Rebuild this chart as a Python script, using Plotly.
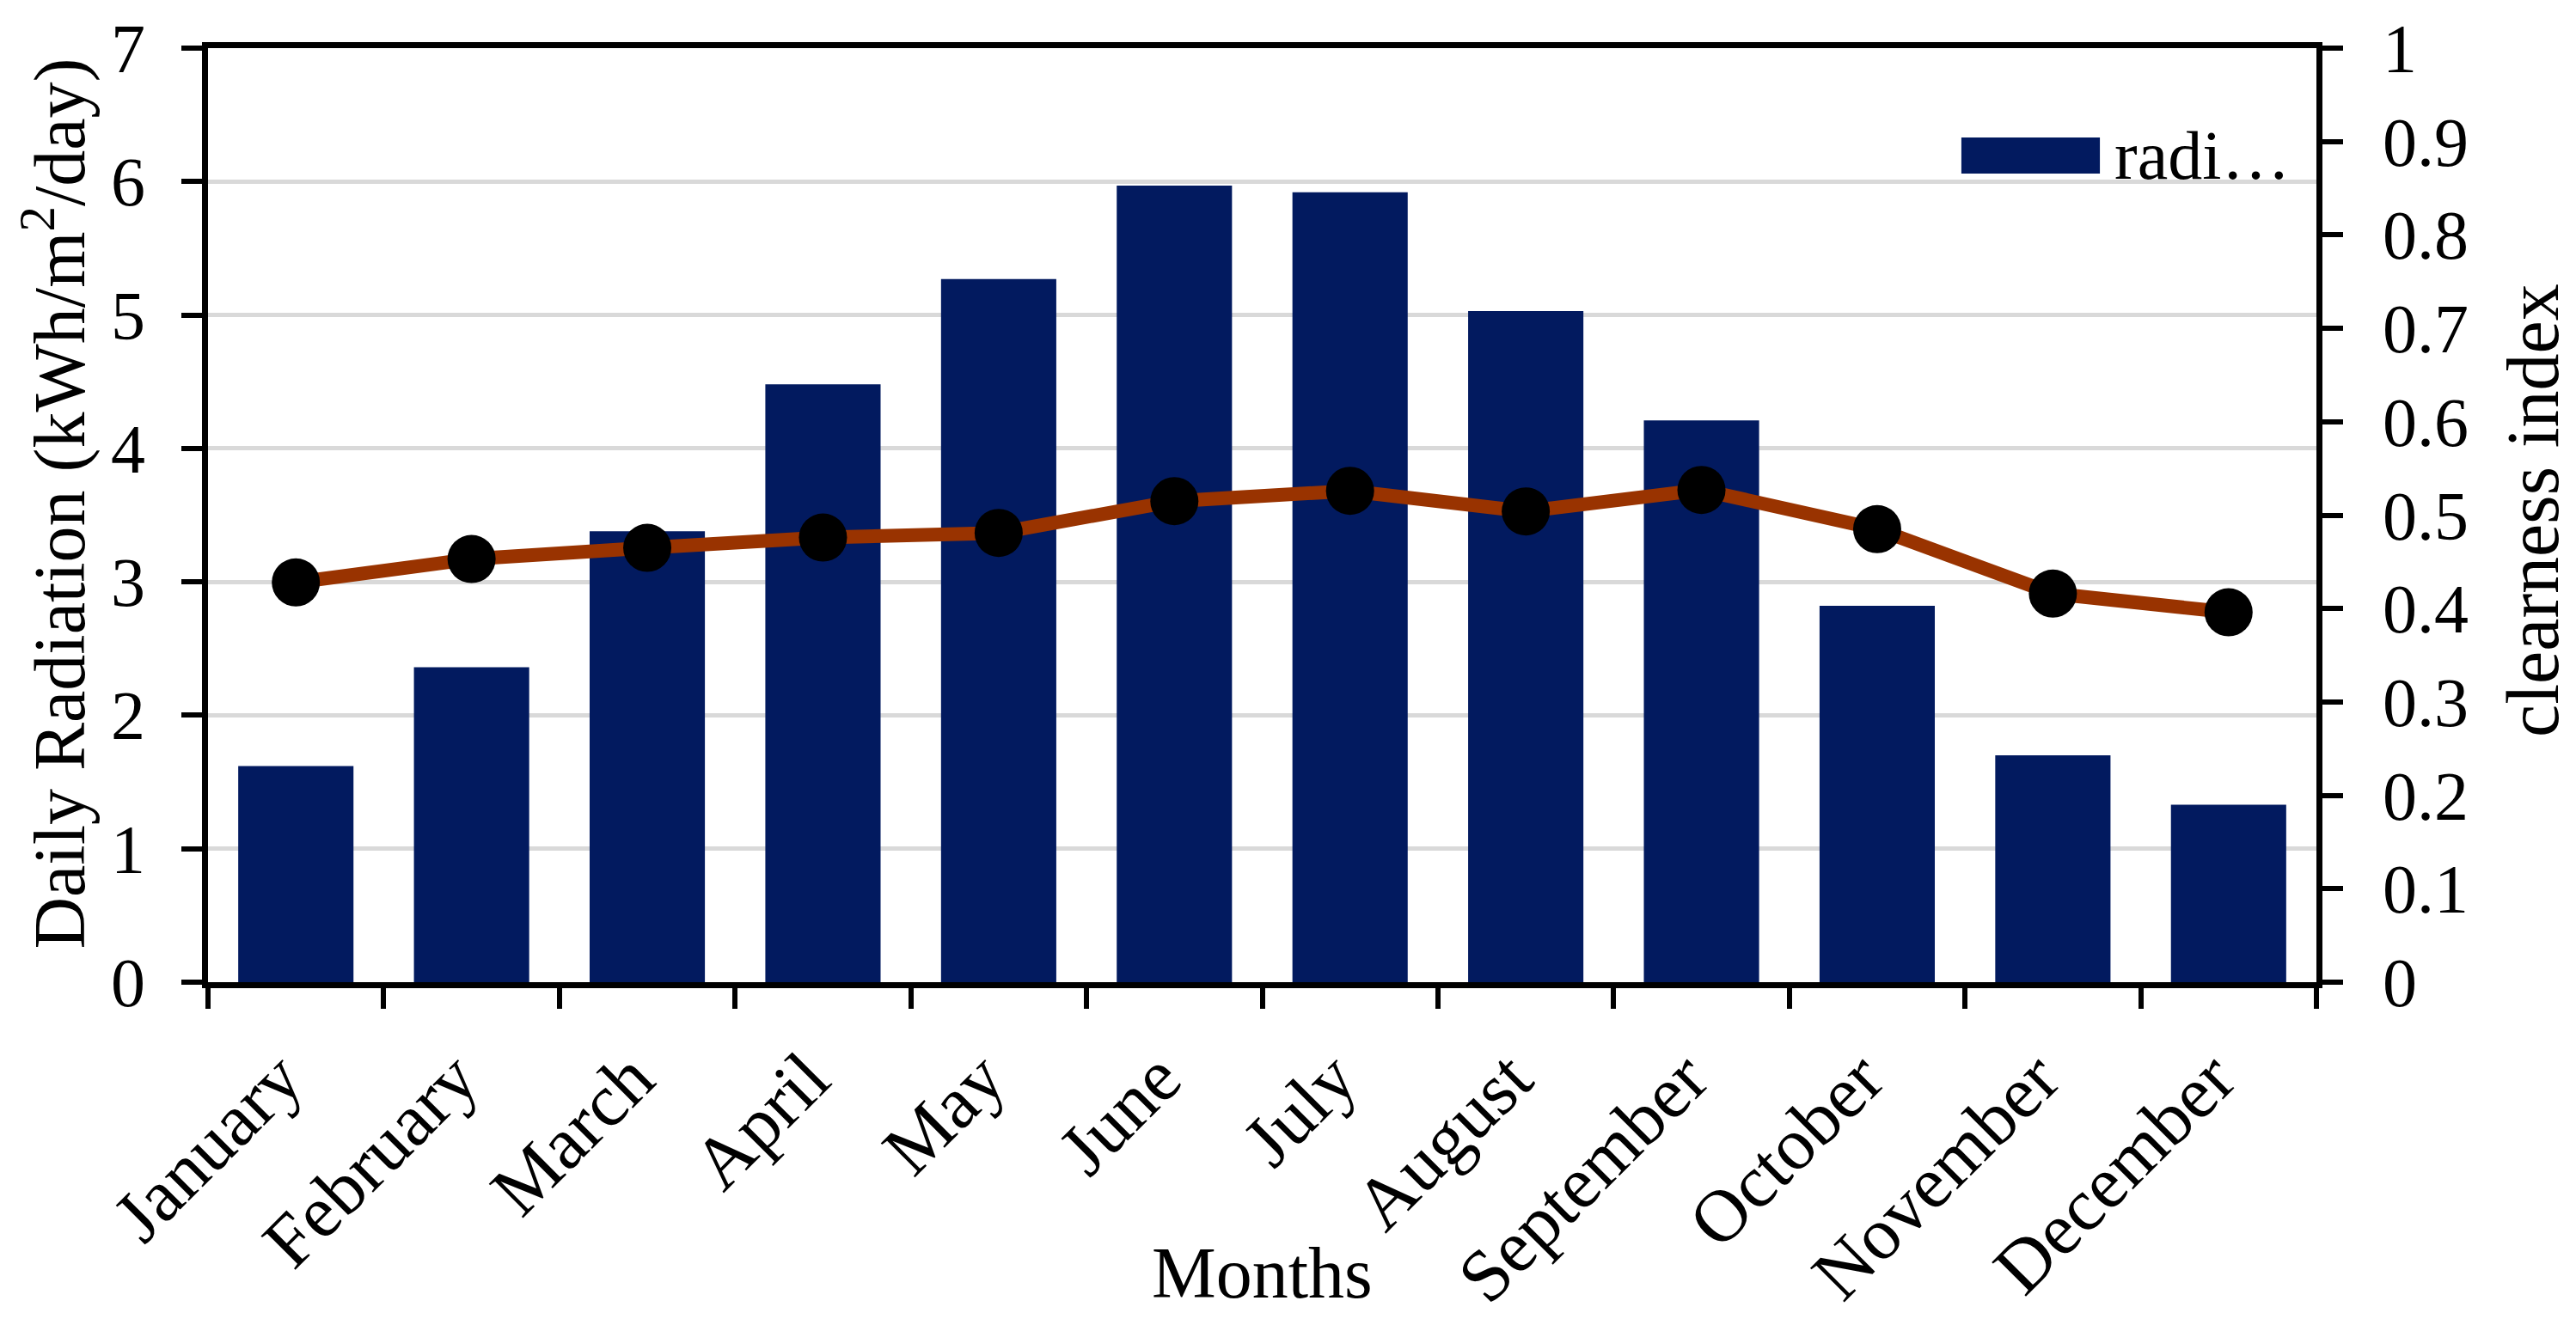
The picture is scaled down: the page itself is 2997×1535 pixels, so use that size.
import plotly.graph_objects as go

months = ["January", "February", "March", "April", "May", "June", "July",
          "August", "September", "October", "November", "December"]
radiation = [1.62, 2.36, 3.38, 4.48, 5.27, 5.97, 5.92, 5.03, 4.21, 2.82, 1.70, 1.33]
clearness = [0.428, 0.453, 0.465, 0.476, 0.481, 0.515, 0.526, 0.504, 0.527, 0.485, 0.416, 0.396]
left_ticks = [0, 1, 2, 3, 4, 5, 6, 7]
right_ticks = [0, 0.1, 0.2, 0.3, 0.4, 0.5, 0.6, 0.7, 0.8, 0.9, 1]

FONT = "Liberation Serif, Times New Roman, serif"
BAR_COLOR = "#021A5F"
LINE_COLOR = "#993300"

fig = go.Figure()
fig.add_trace(go.Bar(
    x=months, y=radiation, name="radi…",
    marker=dict(color=BAR_COLOR, line=dict(width=0)),
    yaxis="y", showlegend=False,
))
fig.add_trace(go.Scatter(
    x=months, y=clearness, name="clearness index",
    mode="lines+markers",
    line=dict(color=LINE_COLOR, width=16),
    marker=dict(color="black", size=56),
    yaxis="y2", showlegend=False, cliponaxis=False,
))

# legend-like key (swatch + label) at top right, as in the reference
fig.add_shape(type="rect", xref="paper", yref="paper",
              x0=0.8316, x1=0.8973, y0=0.8657, y1=0.9043,
              fillcolor=BAR_COLOR, line=dict(width=0), layer="above")
fig.add_annotation(text="radi…", xref="paper", yref="paper",
                   x=0.9034, y=0.885, xanchor="left", yanchor="middle",
                   showarrow=False, font=dict(size=80, family=FONT, color="black"))

# axis titles placed as in the reference
fig.add_annotation(text="Months", xref="paper", yref="paper",
                   x=0.5, y=-0.311, xanchor="center", yanchor="middle",
                   showarrow=False, font=dict(size=84, family=FONT, color="black"))
fig.add_annotation(text="Daily Radiation (kWh/m<sup>2</sup>/day)", xref="paper", yref="paper",
                   x=-0.0725, y=0.512, xanchor="center", yanchor="middle", textangle=-90,
                   showarrow=False, font=dict(size=84, family=FONT, color="black"))
fig.add_annotation(text="clearness index", xref="paper", yref="paper",
                   x=1.1027, y=0.505, xanchor="center", yanchor="middle", textangle=-90,
                   showarrow=False, font=dict(size=86, family=FONT, color="black"))

# page body has an 8px default margin, so the figure is sized/offset to compensate
fig.update_layout(
    width=2989, height=1527,
    margin=dict(l=234, r=302, t=48, b=392),
    paper_bgcolor="white", plot_bgcolor="white",
    font=dict(family=FONT, color="black", size=80),
    bargap=0.344,
    showlegend=False,
    xaxis=dict(
        type="category",
        range=[-0.5, 11.5],
        automargin=False,
        tickangle=-45,
        tickson="boundaries",
        ticks="outside", ticklen=24, tickwidth=6, tickcolor="black",
        showline=True, linecolor="black", linewidth=7, mirror=True,
        showgrid=False,
        tickfont=dict(size=86, family=FONT),
        ticklabelstandoff=20,
        ticklabelshift=-18,
    ),
    yaxis=dict(
        range=[0, 7], tickvals=left_ticks,
        automargin=False,
        ticks="outside", ticklen=24, tickwidth=6, tickcolor="black",
        showline=True, linecolor="black", linewidth=7,
        showgrid=True, gridcolor="#D9D9D9", gridwidth=5,
        zeroline=False,
        tickfont=dict(size=80, family=FONT),
        ticklabelstandoff=26,
    ),
    yaxis2=dict(
        range=[0, 1], tickvals=right_ticks,
        automargin=False,
        overlaying="y", side="right",
        ticks="outside", ticklen=24, tickwidth=6, tickcolor="black",
        showline=True, linecolor="black", linewidth=7,
        showgrid=False, zeroline=False,
        tickfont=dict(size=80, family=FONT),
        ticklabelstandoff=30,
    ),
)

fig.write_html("out.html")
